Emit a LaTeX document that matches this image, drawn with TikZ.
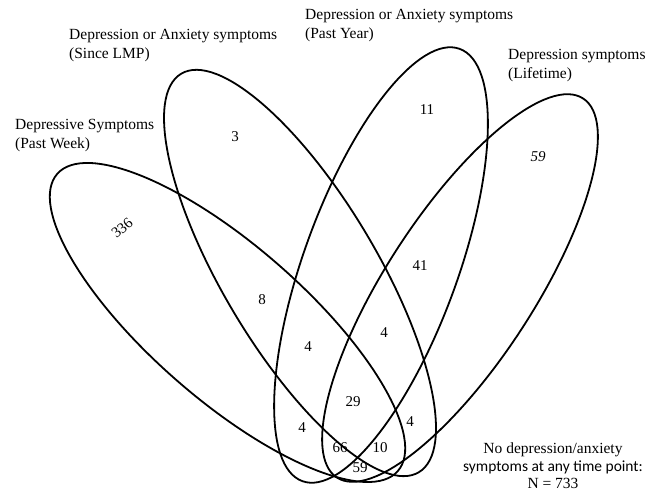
\documentclass[tikz,border=0pt]{standalone}
\usepackage{fontspec}
\setmainfont{Liberation Serif}
\newfontfamily\calfont{Carlito}
\begin{document}
\begin{tikzpicture}[x=1pt,y=-1pt,
  venn/.style={draw=black, line width=1.8pt},
  lbl/.style={font=\fontsize{15.5}{19}\selectfont, align=left, anchor=west, inner sep=0pt},
  num/.style={font=\fontsize{15}{18}\selectfont, inner sep=0pt}]
\useasboundingbox (0,0) rectangle (660,493);
% ellipse centres
\coordinate (cA) at (227.5,322.5);
\coordinate (cB) at (300,273);
\coordinate (cC) at (381,265);
\coordinate (cD) at (460,288);
% ellipses
\draw[venn, rotate around={-41.1:(cA)}] (cA) ellipse [x radius=226pt, y radius=77pt];
\draw[venn, rotate around={-59.2:(cB)}] (cB) ellipse [x radius=232pt, y radius=77pt];
\draw[venn, rotate around={70:(cC)}] (cC) ellipse [x radius=230pt, y radius=77pt];
\draw[venn, rotate around={57:(cD)}] (cD) ellipse [x radius=226pt, y radius=74pt];
% set labels
\node[lbl] (lA) at (15,135.5) {Depressive Symptoms\\(Past Week)};
\node[lbl] (lB) at (69,46) {Depression or Anxiety symptoms\\(Since LMP)};
\node[lbl] (lC) at (305,26) {Depression or Anxiety symptoms\\(Past Year)};
\node[lbl] (lD) at (508,66) {Depression symptoms\\(Lifetime)};
% counts
\node[num, rotate=40] (n336) at (122,228) {336};
\node[num] (n3) at (235,137) {3};
\node[num] (n11) at (427,110) {11};
\node[num] (n59a) at (538,157) {\itshape 59};
\node[num] (n8) at (262,300) {8};
\node[num] (n41) at (420,266) {41};
\node[num] (n4a) at (308,347) {4};
\node[num] (n4b) at (384,333) {4};
\node[num] (n29) at (353,402) {29};
\node[num] (n4c) at (302,428) {4};
\node[num] (n4d) at (410,422) {4};
\node[num] (n66) at (340,448) {66};
\node[num] (n10) at (380,448) {10};
\node[num] (n59b) at (360,468) {59};
% note
\node[font=\fontsize{15.5}{17.5}\selectfont, align=center, inner sep=0pt] (note) at (553,466)
  {No depression/anxiety\\{\calfont symptoms at any time point:}\\N = 733};
\end{tikzpicture}
\end{document}
